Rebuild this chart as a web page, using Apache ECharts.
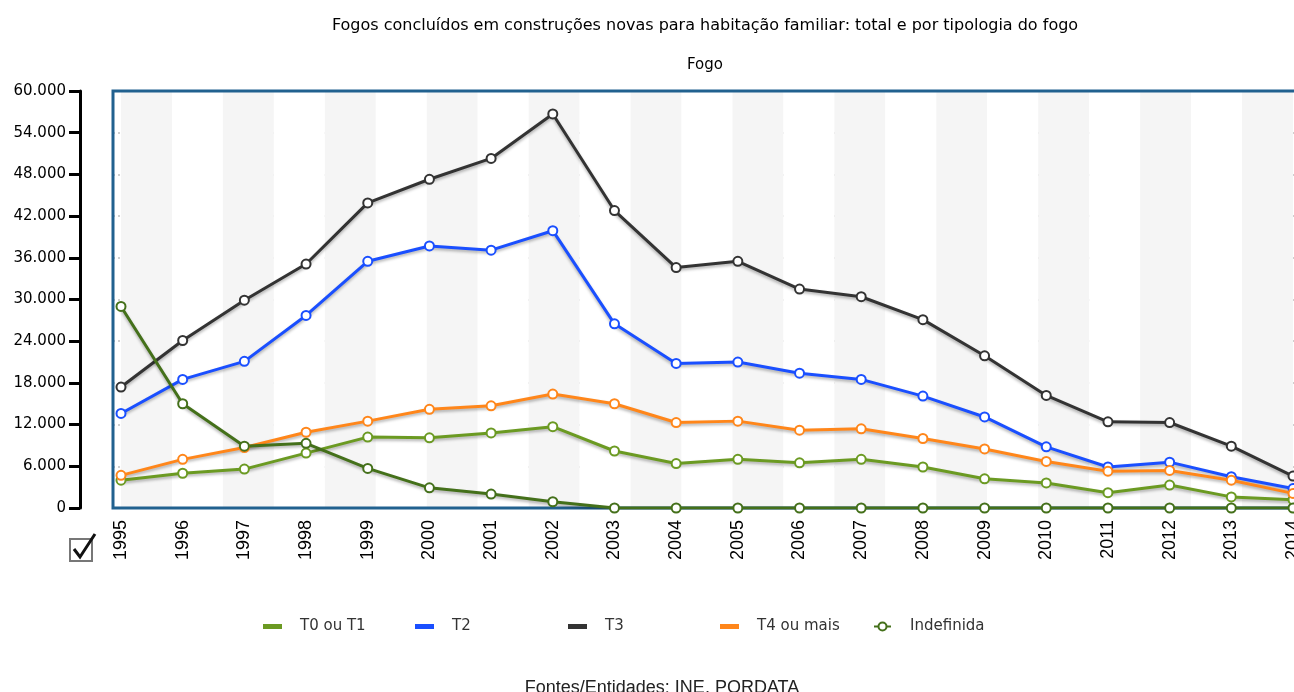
<!DOCTYPE html>
<html>
<head>
<meta charset="utf-8">
<script src="https://cdn.jsdelivr.net/npm/echarts@6/dist/echarts.min.js"></script>
<style>
html,body{margin:0;padding:0;background:#fff;}
#chart{width:1294px;height:692px;}
</style>
</head>
<body>
<div id="chart"></div>
<script>
var titleText = 'Fogos concluídos em construções novas para habitação familiar: total e por tipologia do fogo';
var subtitleText = 'Fogo';
var sourceText = 'Fontes/Entidades: INE, PORDATA';
var years = ['1995','1996','1997','1998','1999','2000','2001','2002','2003','2004','2005','2006','2007','2008','2009','2010','2011','2012','2013','2014'];
var seriesNames = ['T0 ou T1','T2','T3','T4 ou mais','Indefinida'];
var t0t1 = [4000, 5000, 5600, 7900, 10200, 10100, 10800, 11700, 8200, 6400, 7000, 6500, 7000, 5900, 4200, 3600, 2200, 3300, 1600, 1200];
var t2 = [13600, 18500, 21100, 27700, 35500, 37700, 37100, 39900, 26500, 20800, 21000, 19400, 18500, 16100, 13100, 8800, 5900, 6600, 4500, 2800];
var t3 = [17400, 24100, 29900, 35100, 43900, 47300, 50300, 56700, 42800, 34600, 35500, 31500, 30400, 27100, 21900, 16200, 12400, 12300, 8900, 4600];
var t4 = [4700, 7000, 8700, 10900, 12500, 14200, 14700, 16400, 15000, 12300, 12500, 11200, 11400, 10000, 8500, 6700, 5300, 5400, 4000, 2100];
var indef = [29000, 15000, 8900, 9300, 5700, 2900, 2000, 900, 0, 0, 0, 0, 0, 0, 0, 0, 0, 0, 0, 0];
var yMin = 0, yMax = 60000, yStep = 6000;

var colors = ['#6b9a22', '#1a4fff', '#333333', '#ff861a', '#44701a'];
var valuesList = [t0t1, t2, t3, t4, indef];

function fmt(v){ return String(v).replace(/\B(?=(\d{3})+(?!\d))/g, '.'); }

var chart = echarts.init(document.getElementById('chart'), null, {renderer:'canvas'});
var font = 'DejaVu Sans';

var series = seriesNames.map(function(name, i){
  return {
    name: name,
    type: 'line',
    xAxisIndex: 1,
    yAxisIndex: 1,
    data: valuesList[i],
    symbol: 'emptyCircle',
    symbolSize: 9,
    showSymbol: true,
    lineStyle: {color: colors[i], width: 3, shadowColor: 'rgba(0,0,0,0.3)', shadowBlur: 3, shadowOffsetY: 2},
    itemStyle: {color: colors[i], borderColor: colors[i], borderWidth: 2},
    emphasis: {disabled: true},
    z: 3
  };
});

var legendLefts = [258, 410, 563, 715, 868];
var legends = seriesNames.map(function(name, i){
  var isLast = (i === seriesNames.length - 1);
  return {
    data: [isLast ? {name: name} : {name: name, icon: 'rect'}],
    left: legendLefts[i],
    top: 614,
    itemWidth: 17,
    itemHeight: isLast ? 10 : 3,
    selectedMode: false,
    textStyle: {fontFamily: font, fontSize: 15, color: '#333', padding: [0,0,0,14]}
  };
});

var option = {
  backgroundColor: '#ffffff',
  animation: false,
  title: [
    {text: titleText, left: 700, top: 13, textAlign: 'center', textStyle: {fontFamily: font, fontSize: 16, fontWeight: 'normal', color: '#000'}},
    {text: subtitleText, left: 700, top: 53, textAlign: 'center', textStyle: {fontFamily: font, fontSize: 15, fontWeight: 'normal', color: '#000'}},
    {text: sourceText, left: 657, top: 674, textAlign: 'center', textStyle: {fontFamily: 'Liberation Sans', fontSize: 18, fontWeight: 'normal', color: '#222'}}
  ],
  legend: legends,
  grid: [
    {left: 113, width: 1189, top: 91, bottom: 184, show: true, borderColor: '#21618f', borderWidth: 3, backgroundColor: 'transparent', z: 1, outerBoundsMode: 'none', containLabel: false},
    {left: 121, right: 1, top: 91, bottom: 184, show: false, outerBoundsMode: 'none', containLabel: false}
  ],
  xAxis: [
    {gridIndex: 0, type: 'value', min: 0, max: 1, show: false},
    {gridIndex: 1, type: 'category', data: years, boundaryGap: false,
     axisLine: {show: false}, axisTick: {show: false}, splitLine: {show: false},
     axisLabel: {rotate: 90, margin: 12, fontFamily: 'Liberation Sans', fontSize: 18, color: '#000', interval: 0, hideOverlap: false}},
    {gridIndex: 1, type: 'value', position: 'top', min: 0, max: 23, interval: 1,
     axisLine: {show: false}, axisTick: {show: false}, axisLabel: {show: false}, splitLine: {show: false},
     splitArea: {show: true, areaStyle: {color: ['#f5f5f5', '#ffffff']}}}
  ],
  yAxis: [
    {gridIndex: 0, type: 'value', min: yMin, max: yMax, interval: yStep, offset: 33,
     axisLine: {show: true, onZero: false, lineStyle: {color: '#000', width: 3}},
     axisTick: {show: true, length: 11, lineStyle: {color: '#000', width: 3}},
     axisLabel: {margin: 14, fontFamily: font, fontSize: 15, color: '#000', formatter: fmt},
     splitLine: {show: true, showMinLine: false, showMaxLine: false, lineStyle: {color: '#cfcfcf', width: 2, type: [2, 3]}}},
    {gridIndex: 1, type: 'value', min: yMin, max: yMax, interval: yStep, show: false}
  ],
  graphic: [
    {type: 'rect', left: 69, top: 538, shape: {width: 22, height: 22}, style: {fill: '#fff', stroke: '#777', lineWidth: 2}},
    {type: 'polyline', shape: {points: [[74, 549], [80, 557], [95, 534]]}, style: {stroke: '#111', lineWidth: 3, fill: null}}
  ],
  series: series
};
chart.setOption(option);
</script>
</body>
</html>
